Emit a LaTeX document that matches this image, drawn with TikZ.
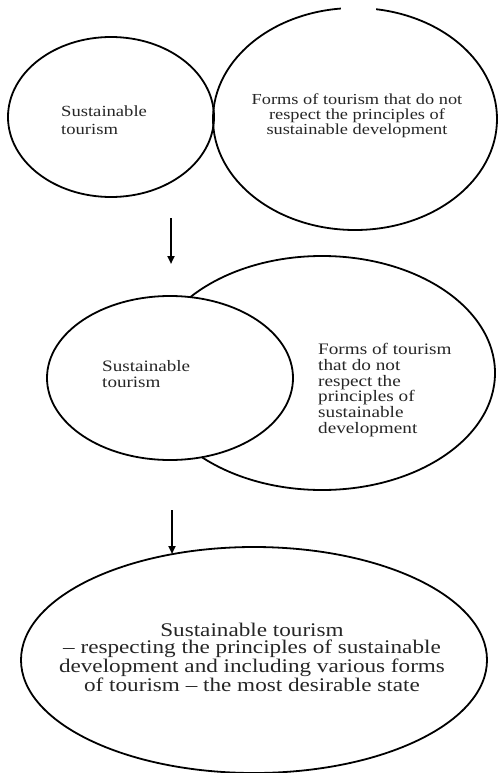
\documentclass[tikz,border=0pt]{standalone}
\usepackage{fontspec}
\usetikzlibrary{shapes.geometric,arrows.meta}
\newfontfamily\wideserif[FakeStretch=1.2]{Liberation Serif}
\newcommand{\txtsize}[2]{\wideserif\fontsize{#1}{#2}\selectfont}
\begin{document}
\begin{tikzpicture}[x=1pt,y=-1pt,
  oval/.style={draw=black,line width=1.8pt,ellipse,inner sep=0pt,outer sep=0pt},
  label/.style={inner sep=0pt,text=black!85},
  flow/.style={line width=2.2pt,-{Triangle[width=7pt,length=8pt]}}]
\useasboundingbox (0,0) rectangle (500,773);
\fill[white] (0,0) rectangle (500,773);

% stage 1: two separate sets
\node[oval,minimum width=206pt,minimum height=160pt] (s1) at (111,117) {};
\node[oval,minimum width=284pt,minimum height=222pt] (f1) at (355,119) {};
\fill[white] (341,2) rectangle (376,12);
\node[label,align=left,anchor=west,font=\txtsize{15.5}{18}] (s1t) at (61,120)
  {Sustainable\\tourism};
\node[label,align=center,font=\txtsize{15.3}{15}] (f1t) at (357,116)
  {Forms of tourism that do not\\respect the principles of\\sustainable development};

% stage 2: overlapping sets
\node[oval,minimum width=346pt,minimum height=234pt] (f2) at (322,373) {};
\node[oval,fill=white,minimum width=246pt,minimum height=164pt] (s2) at (170,378) {};
\node[label,align=left,anchor=west,font=\txtsize{15.9}{16}] (s2t) at (102,374)
  {Sustainable\\tourism};
\node[label,align=left,anchor=west,font=\txtsize{16}{15.8}] (f2t) at (318,390)
  {Forms of tourism\\that do not\\respect the\\principles of\\sustainable\\development};

% stage 3: single set
\node[oval,minimum width=466pt,minimum height=226pt] (s3) at (254,660) {};
\node[label,align=center,font=\txtsize{19.3}{17.6}] (s3t) at (252,657)
  {Sustainable tourism\\\textendash{} respecting the principles of sustainable\\development and including various forms\\of tourism \textendash{} the most desirable state};

% transitions between stages
\coordinate (a1) at (171,218);
\coordinate (b1) at (171,264);
\coordinate (a2) at (172,510);
\coordinate (b2) at (172,554);
\draw[flow] (a1) -- (b1);
\draw[flow] (a2) -- (b2);
\end{tikzpicture}
\end{document}
